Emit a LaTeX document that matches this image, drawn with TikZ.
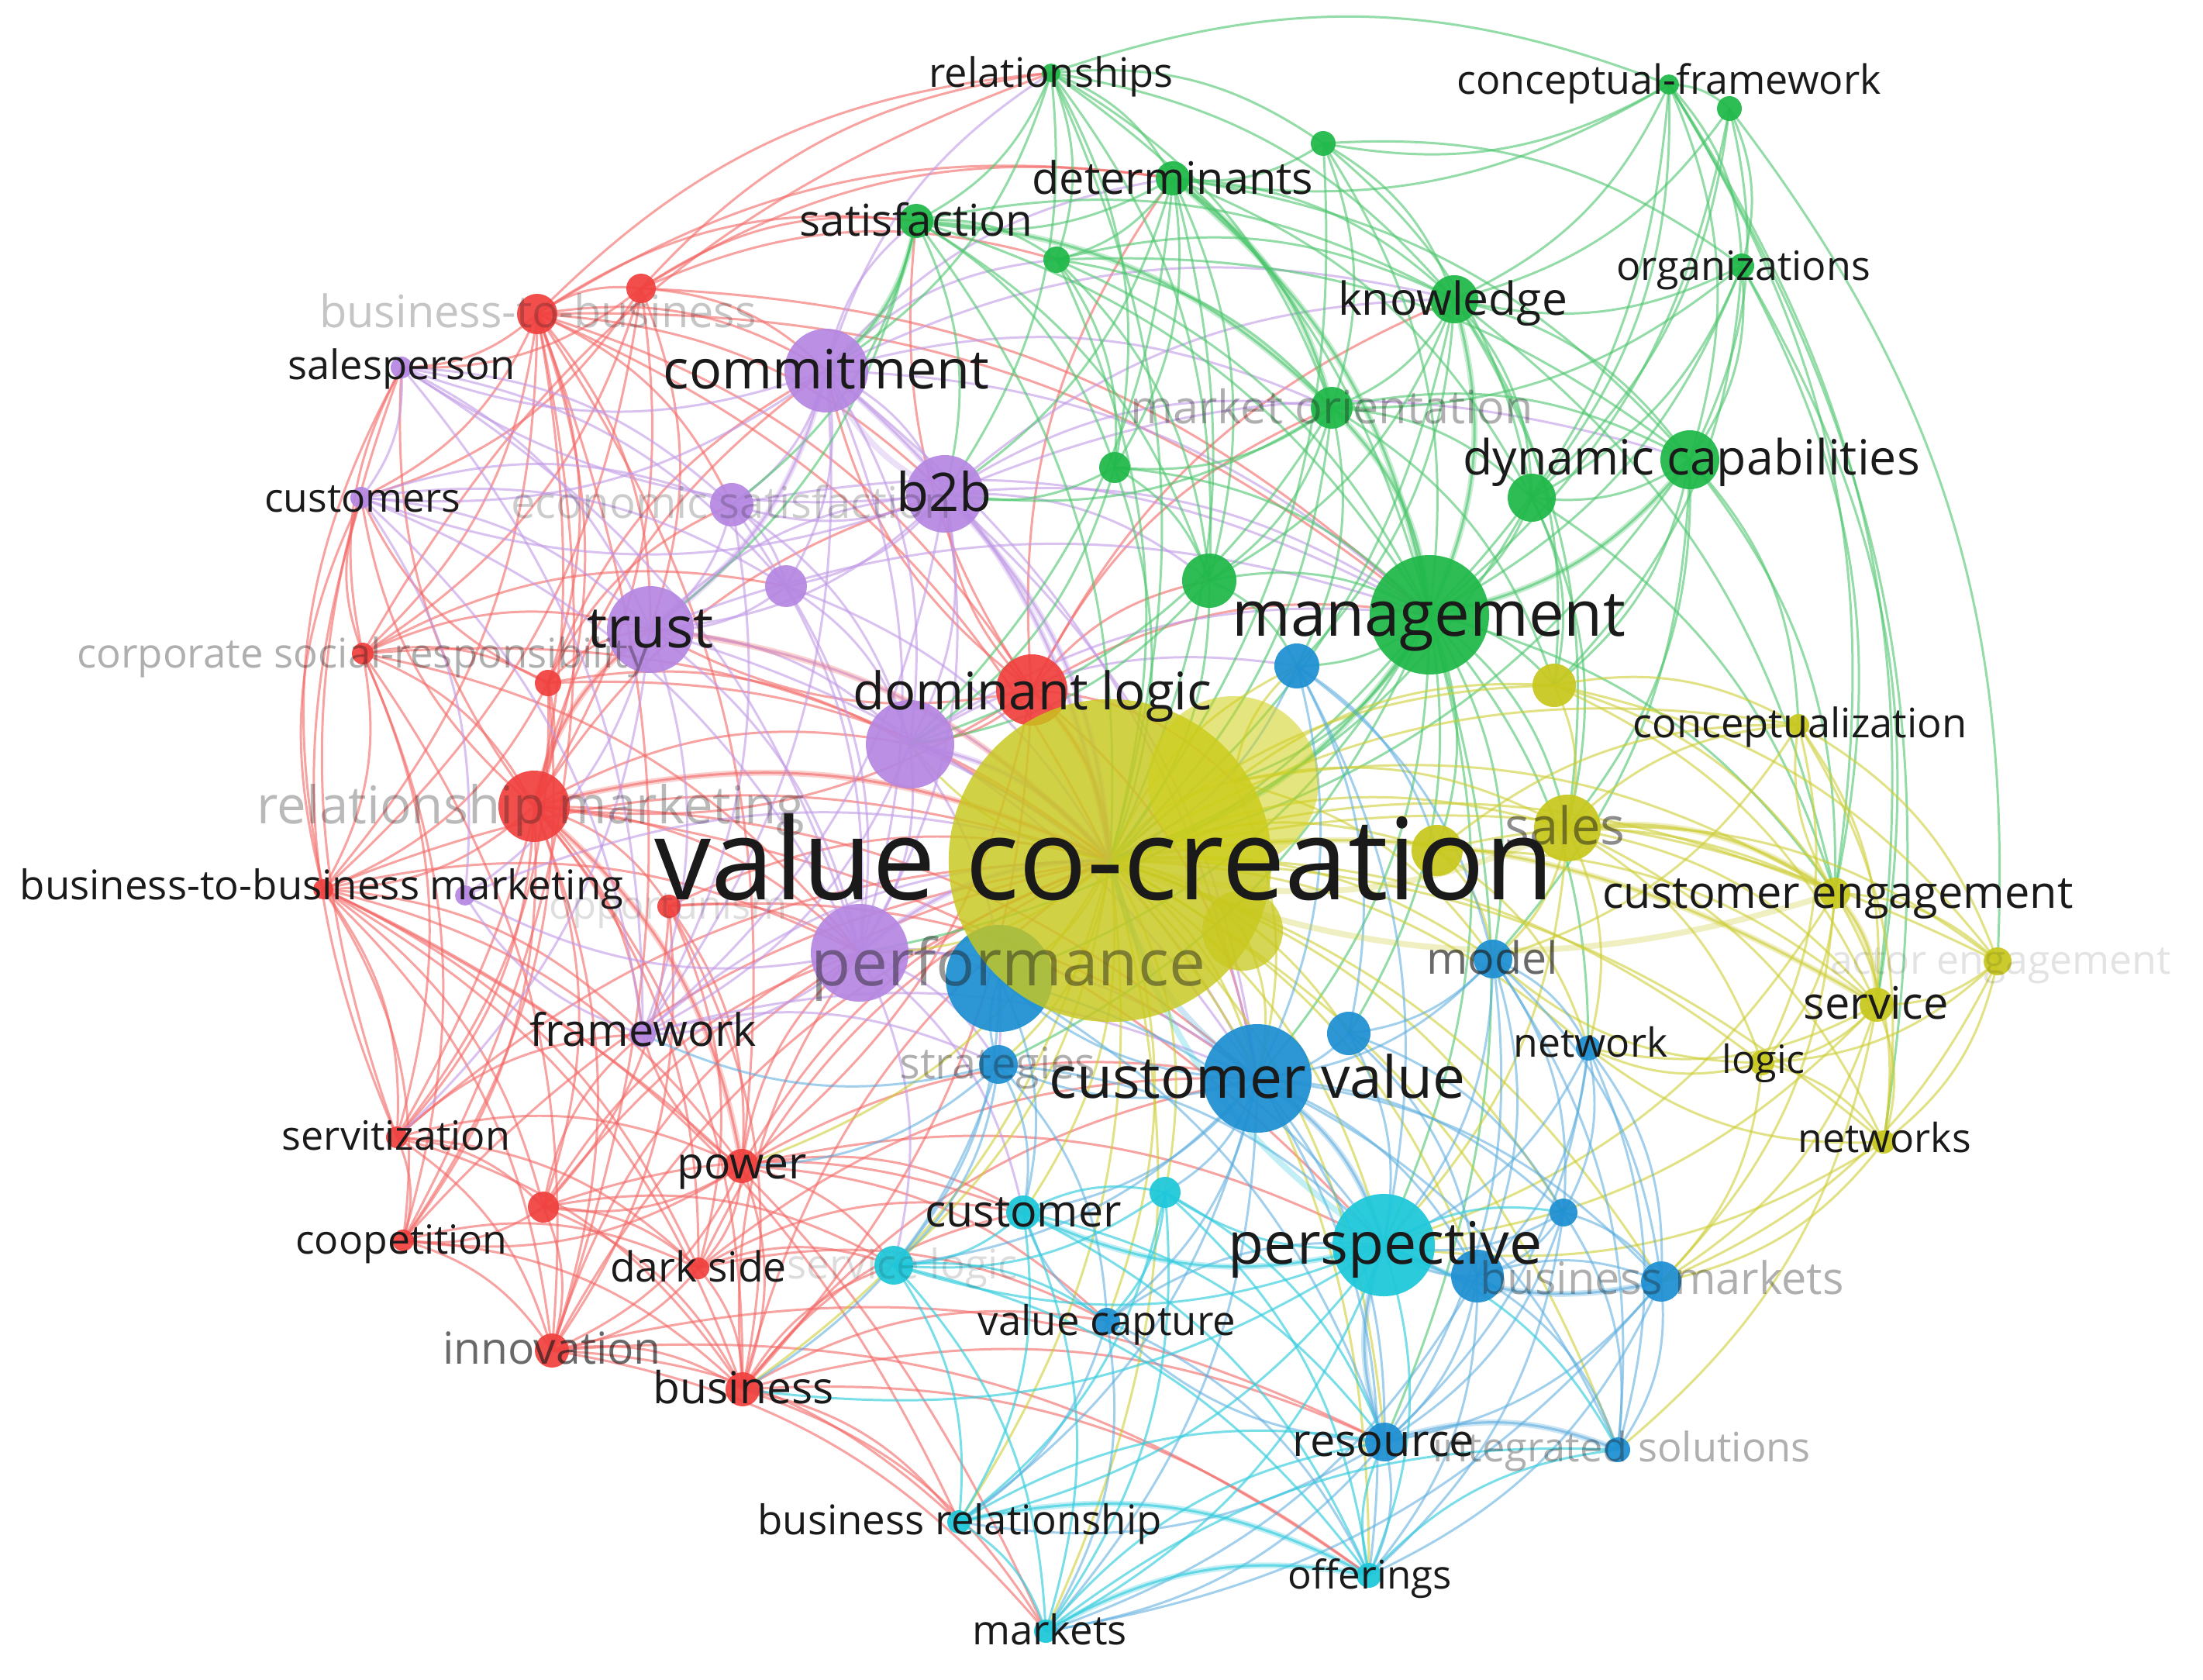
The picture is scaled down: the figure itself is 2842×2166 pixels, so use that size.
\documentclass[tikz,border=0pt]{standalone}
\usepackage{fontspec}
\setmainfont{Open Sans}
\pgfdeclarelayer{edges}
\pgfdeclarelayer{bg}
\pgfsetlayers{bg,edges,main}
\definecolor{gC}{HTML}{1FB848}
\definecolor{pC}{HTML}{B587E2}
\definecolor{rC}{HTML}{F0413F}
\definecolor{yC}{HTML}{C8C81E}
\definecolor{bC}{HTML}{1E8FD2}
\definecolor{cC}{HTML}{1DC8DA}
\definecolor{txt}{HTML}{1A1A1A}
\tikzset{
  kwdot/.style={circle,inner sep=0pt,draw=none,fill opacity=0.93},
  kwlbl/.style={anchor=base,inner sep=0pt,text=txt},
  ered/.style={draw=rC!80!white,draw opacity=0.6,line width=0.85pt},
  epur/.style={draw=pC!85!white,draw opacity=0.6,line width=0.85pt},
  egre/.style={draw=gC!80!white,draw opacity=0.6,line width=0.85pt},
  eyel/.style={draw=yC!90!white,draw opacity=0.6,line width=0.85pt},
  eblu/.style={draw=bC!75!white,draw opacity=0.55,line width=0.85pt},
  ecya/.style={draw=cC!90!white,draw opacity=0.65,line width=0.85pt},
  ethick/.style={line width=2.2pt,draw opacity=0.3},
}
\newcommand\kwnode[5]{\node[kwdot,fill=#5,minimum size={2*#4*0.01cm}] (#1) at (#2,#3) {};}
\newcommand\kwlabel[6]{\node[kwlbl,font=\fontsize{#4}{#4}\selectfont,text opacity=#5] (l#1) at ({#2},{#3+1.23*#4}) {#6};}
\begin{document}
\begin{tikzpicture}[x=0.01cm,y=-0.01cm]
\begin{pgfonlayer}{bg}
\fill[white] (0,0) rectangle (2842,2166);
\end{pgfonlayer}
\useasboundingbox (0,0) rectangle (2842,2166);
% ---- nodes ----
% red
\kwnode{b2bl}{693}{405}{26}{rC}
\kwnode{r1}{827}{372}{19}{rC}
\kwnode{csr}{468}{843}{14}{rC}
\kwnode{r2}{707}{881}{17}{rC}
\kwnode{rm}{689}{1040}{46}{rC}
\kwnode{bbm}{417}{1147}{13}{rC}
\kwnode{opp}{863}{1169}{15}{rC}
\kwnode{rdl}{1331}{890}{46}{rC}
\kwnode{ser}{512}{1467}{14}{rC}
\kwnode{pow}{957}{1504}{22}{rC}
\kwnode{r3}{701}{1557}{20}{rC}
\kwnode{coo}{520}{1600}{14}{rC}
\kwnode{dar}{901}{1636}{14}{rC}
\kwnode{inn}{712}{1742}{22}{rC}
\kwnode{bus}{958}{1792}{22}{rC}
% purple
\kwnode{com}{1066}{478}{54}{pC}
\kwnode{b2b}{1219}{637}{50}{pC}
\kwnode{slp}{518}{474}{14}{pC}
\kwnode{cus}{466}{642}{14}{pC}
\kwnode{eco}{944}{651}{28}{pC}
\kwnode{p1}{1014}{756}{27}{pC}
\kwnode{tru}{839}{812}{56}{pC}
\kwnode{pdl}{1174}{960}{57}{pC}
\kwnode{perf}{1109}{1229}{63}{pC}
\kwnode{frw}{829}{1334}{17}{pC}
\kwnode{p2}{600}{1155}{13}{pC}
% green
\kwnode{rel}{1356}{94}{12}{gC}
\kwnode{cfw}{2153}{109}{13}{gC}
\kwnode{cfwb}{2231}{140}{16}{gC}
\kwnode{g1}{1707}{185}{16}{gC}
\kwnode{det}{1513}{230}{22}{gC}
\kwnode{sat}{1182}{285}{22}{gC}
\kwnode{g2}{1363}{335}{17}{gC}
\kwnode{org}{2247}{343}{16}{gC}
\kwnode{kno}{1876}{386}{31}{gC}
\kwnode{mko}{1718}{526}{27}{gC}
\kwnode{g3}{1438}{603}{20}{gC}
\kwnode{dyn}{2180}{593}{38}{gC}
\kwnode{g4}{1976}{642}{31}{gC}
\kwnode{g5}{1560}{749}{35}{gC}
\kwnode{man}{1844}{793}{77}{gC}
% blue
\kwnode{b1}{1673}{859}{29}{bC}
\kwnode{mod}{1926}{1237}{25}{bC}
\kwnode{netw}{2049}{1352}{16}{bC}
\kwnode{b2}{1740}{1333}{28}{bC}
\kwnode{cv}{1622}{1391}{70}{bC}
\kwnode{str}{1288}{1373}{25}{bC}
\kwnode{b3}{2017}{1564}{18}{bC}
\kwnode{b4}{1906}{1646}{34}{bC}
\kwnode{bm}{2143}{1653}{26}{bC}
\kwnode{vcap}{1428}{1704}{17}{bC}
\kwnode{res}{1786}{1860}{25}{bC}
\kwnode{int}{2087}{1870}{16}{bC}
\kwnode{bbig}{1289}{1262}{69}{bC}
% cyan
\kwnode{pers}{1785}{1606}{66}{cC}
\kwnode{ccus}{1320}{1564}{22}{cC}
\kwnode{c1}{1503}{1538}{20}{cC}
\kwnode{slog}{1153}{1632}{25}{cC}
\kwnode{brel}{1237}{1963}{15}{cC}
\kwnode{off}{1766}{2032}{16}{cC}
\kwnode{mkt}{1349}{2104}{15}{cC}
% yellow
\node[kwdot,fill=yC,fill opacity=0.82,minimum size=4.16cm] (vcc) at (1432,1110) {};
\node[kwdot,fill=yC!85!yellow,fill opacity=0.55,minimum size=2.2cm] (y1) at (1591,1008) {};
\node[kwdot,fill=yC,fill opacity=0.75,minimum size=1.04cm] (y2) at (1603,1200) {};
\kwnode{y3}{2005}{884}{28}{yC}
\kwnode{y4}{1854}{1097}{33}{yC}
\kwnode{sls}{2022}{1068}{43}{yC}
\kwnode{ceng}{2367}{1152}{20}{yC}
\kwnode{conc}{2320}{935}{14}{yC}
\kwnode{act}{2577}{1240}{18}{yC}
\kwnode{serv}{2421}{1296}{22}{yC}
\kwnode{log}{2273}{1371}{16}{yC}
\kwnode{nets}{2430}{1473}{15}{yC}
% ---- edges ----
\begin{pgfonlayer}{edges}
\foreach \a/\b in {b2bl/r1, b2bl/slp, b2bl/cus, b2bl/csr, b2bl/r2, b2bl/rm, b2bl/bbm, b2bl/tru, b2bl/com, b2bl/b2b, b2bl/rel, b2bl/sat, b2bl/det, b2bl/ser, b2bl/coo, b2bl/inn, b2bl/pow, b2bl/rdl, b2bl/vcc, b2bl/eco, b2bl/man,
r1/com, r1/rel, r1/det, r1/tru, r1/rm, r1/csr, r1/cus, r1/slp, r1/bbm, r1/g2, r1/sat, r1/man,
csr/slp, csr/cus, csr/rm, csr/bbm, csr/tru, csr/r2, csr/ser, csr/coo, csr/inn, csr/perf, csr/p1, csr/rel, csr/vcc,
r2/tru, r2/rm, r2/bbm, r2/cus, r2/eco, r2/com, r2/ser, r2/coo, r2/vcc, r2/pdl,
rm/bbm, rm/ser, rm/coo, rm/inn, rm/bus, rm/pow, rm/r3, rm/dar, rm/tru, rm/com, rm/b2b, rm/pdl, rm/vcc, rm/perf, rm/frw, rm/cus, rm/slp, rm/opp, rm/cv, rm/pers,
bbm/ser, bbm/coo, bbm/inn, bbm/r3, bbm/pow, bbm/bus, bbm/frw, bbm/dar, bbm/perf, bbm/vcc, bbm/slp, bbm/cus, bbm/mkt, bbm/brel,
opp/pow, opp/r3, opp/dar, opp/vcc, opp/perf, opp/inn, opp/bus, opp/cv,
rdl/vcc, rdl/man, rdl/g5, rdl/com, rdl/b2b, rdl/pdl, rdl/tru, rdl/rm, rdl/pow, rdl/bus, rdl/sat, rdl/det, rdl/mko, rdl/cv, rdl/y1, rdl/kno,
ser/coo, ser/inn, ser/r3, ser/pow, ser/bus, ser/dar, ser/frw, ser/slp, ser/cus, ser/vcc,
pow/r3, pow/dar, pow/bus, pow/inn, pow/vcc, pow/cv, pow/perf, pow/coo, pow/slog, pow/ccus, pow/frw, pow/pers, pow/vcap,
r3/coo, r3/inn, r3/dar, r3/bus, r3/frw, r3/perf, r3/vcc, r3/ccus, r3/slog,
coo/inn, coo/bus, coo/dar, coo/vcc,
dar/bus, dar/inn, dar/slog, dar/vcc, dar/ccus, dar/cv, dar/vcap,
inn/bus, inn/vcc, inn/mkt, inn/brel, inn/perf, inn/res, inn/off,
bus/vcc, bus/slog, bus/ccus, bus/vcap, bus/mkt, bus/brel, bus/perf, bus/cv, bus/off, bus/res}
  {\draw[ered] (\a.center) to[bend left=20] (\b.center);}
\foreach \a/\b in {com/b2b, com/tru, com/eco, com/p1, com/pdl, com/perf, com/slp, com/cus, com/sat, com/det, com/rel, com/vcc, com/man, com/g2, com/frw, com/cv, com/kno, com/mko,
b2b/tru, b2b/eco, b2b/p1, b2b/pdl, b2b/perf, b2b/vcc, b2b/man, b2b/cv, b2b/frw, b2b/cus, b2b/slp, b2b/dyn, b2b/kno, b2b/mko, b2b/g5,
slp/cus, slp/tru, slp/eco, slp/p1, slp/perf, slp/frw,
cus/tru, cus/eco, cus/p1, cus/perf, cus/frw, cus/p2,
eco/tru, eco/p1, eco/pdl, eco/perf, eco/frw, eco/man,
p1/tru, p1/pdl, p1/perf, p1/vcc,
tru/pdl, tru/perf, tru/frw, tru/vcc, tru/p2, tru/cv, tru/ser, tru/man, tru/b2b,
pdl/perf, pdl/vcc, pdl/frw, pdl/cv, pdl/str, pdl/man, pdl/b1,
perf/vcc, perf/frw, perf/cv, perf/str, perf/bbig, perf/p2, perf/ccus, perf/slog,
frw/p2, frw/str, frw/vcc, frw/cv, p2/vcc}
  {\draw[epur] (\a.center) to[bend left=20] (\b.center);}
\foreach \a/\b in {rel/det, rel/sat, rel/g1, rel/g2, rel/kno, rel/mko, rel/man, rel/cfw, rel/g3, rel/g5, rel/com, rel/b2b, rel/vcc,
cfw/cfwb, cfw/org, cfw/kno, cfw/dyn, cfw/g4, cfw/man, cfw/det, cfw/g1, cfw/nets, cfw/serv, cfw/ceng,
cfwb/org, cfwb/dyn, cfwb/kno, cfwb/g4, cfwb/man, cfwb/act,
g1/det, g1/kno, g1/mko, g1/man, g1/g4, g1/org, g1/vcc,
det/sat, det/g2, det/kno, det/mko, det/man, det/g3, det/g5, det/dyn, det/g4, det/b2b, det/vcc, det/pdl,
sat/g2, sat/mko, sat/g3, sat/g5, sat/man, sat/b2b, sat/tru, sat/eco, sat/kno, sat/vcc, sat/com,
g2/mko, g2/g3, g2/g5, g2/man, g2/kno, g2/dyn, g2/vcc,
org/kno, org/dyn, org/g4, org/man, org/mko, org/y3, org/ceng, org/serv,
kno/mko, kno/dyn, kno/g4, kno/man, kno/g5, kno/y3, kno/vcc, kno/sls, kno/ceng, kno/b1,
mko/g3, mko/g5, mko/man, mko/dyn, mko/g4, mko/vcc, mko/b1, mko/y3, mko/pdl, mko/b2b,
g3/g5, g3/man, g3/vcc, g3/pdl, g3/b2b,
dyn/g4, dyn/man, dyn/y3, dyn/vcc, dyn/sls, dyn/ceng, dyn/conc, dyn/mod,
g4/man, g4/vcc, g4/y3, g4/sls, g4/ceng,
g5/man, g5/vcc, g5/b1, g5/pdl,
man/vcc, man/y1, man/b1, man/y3, man/sls, man/cv, man/mod, man/ceng, man/b2, man/netw, man/pers, man/str, man/perf, man/bbig, man/y4, man/res}
  {\draw[egre] (\a.center) to[bend left=20] (\b.center);}
\foreach \a/\b in {vcc/y1, vcc/y2, vcc/y3, vcc/y4, vcc/sls, vcc/ceng, vcc/conc, vcc/serv, vcc/log, vcc/nets, vcc/act, vcc/cv, vcc/pers, vcc/mod, vcc/netw, vcc/b2, vcc/bbig, vcc/str, vcc/ccus, vcc/res, vcc/bm, vcc/off, vcc/mkt, vcc/brel, vcc/vcap, vcc/slog, vcc/b1, vcc/b3, vcc/b4, vcc/int, vcc/c1, vcc/pow, vcc/bus, vcc/perf, vcc/pdl,
y1/y3, y1/sls, y1/ceng, y1/mod, y1/b1, y1/cv, y2/cv,
y3/conc, y3/ceng, y3/sls, y3/serv, y3/act,
y4/ceng, y4/serv, y4/conc, y4/mod, y4/netw,
sls/ceng, sls/conc, sls/serv, sls/log, sls/nets, sls/act, sls/mod, sls/netw, sls/pers,
ceng/conc, ceng/act, ceng/serv, ceng/log, ceng/nets, ceng/bm, ceng/pers,
conc/act, conc/serv, conc/log, conc/nets, conc/mod,
act/serv, act/log, act/nets, act/bm,
serv/log, serv/nets, serv/netw, serv/bm, serv/int, serv/pers,
log/nets, log/mod, log/netw, log/bm,
nets/bm, nets/pers, nets/netw}
  {\draw[eyel] (\a.center) to[bend left=20] (\b.center);}
\foreach \a/\b in {b1/cv, b1/b2, b1/mod, b1/pers, b1/vcc, b1/y4,
mod/netw, mod/b2, mod/cv, mod/pers, mod/b3, mod/b4, mod/bm, mod/res, mod/int,
netw/b3, netw/b4, netw/bm, netw/pers, netw/res, netw/int,
b2/cv, b2/pers, b2/b3, b2/b4,
cv/pers, cv/b3, cv/b4, cv/bm, cv/res, cv/int, cv/str, cv/vcap, cv/bbig, cv/ccus, cv/c1, cv/slog, cv/off, cv/mkt, cv/brel,
str/bbig, str/vcap, str/pers, str/slog, str/ccus, str/bus, str/pow, str/frw,
b3/b4, b3/bm, b3/pers, b3/res, b3/int, b3/off,
b4/bm, b4/pers, b4/res, b4/int, b4/off, b4/mkt,
bm/res, bm/int, bm/pers, bm/off, bm/mkt,
res/int, res/off, res/pers, res/mkt, res/brel, res/vcap,
vcap/pers, vcap/off, vcap/mkt, vcap/ccus, vcap/brel,
bbig/pers, bbig/res, bbig/ccus, bbig/slog}
  {\draw[eblu] (\a.center) to[bend left=20] (\b.center);}
\foreach \a/\b in {pers/ccus, pers/c1, pers/slog, pers/brel, pers/mkt, pers/off, pers/bus, pers/int, pers/b3,
ccus/c1, ccus/slog, ccus/brel, ccus/mkt, ccus/off, ccus/res,
c1/slog, c1/brel, c1/mkt, c1/off, c1/res, c1/vcap,
slog/brel, slog/mkt, slog/off, slog/vcap,
brel/mkt, brel/off, brel/res,
mkt/off, mkt/res, mkt/int,
off/res, off/int}
  {\draw[ecya] (\a.center) to[bend left=20] (\b.center);}
% stronger links
\foreach \a/\b in {rm/vcc, rm/pow, tru/vcc, rdl/vcc, rm/tru}
  {\draw[ered,ethick] (\a.center) to[bend left=20] (\b.center);}
\foreach \a/\b in {com/vcc, b2b/vcc, pdl/vcc, perf/vcc, com/tru, b2b/com}
  {\draw[epur,ethick] (\a.center) to[bend left=20] (\b.center);}
\foreach \a/\b in {man/vcc, kno/man, mko/man, det/man, sat/com, dyn/man, det/mko, sat/mko}
  {\draw[egre,ethick] (\a.center) to[bend left=20] (\b.center);}
\foreach \a/\b in {sls/vcc, ceng/vcc, vcc/serv, ceng/serv, sls/ceng}
  {\draw[eyel,ethick] (\a.center) to[bend left=20] (\b.center);}
\foreach \a/\b in {cv/vcc, cv/pers, bm/pers, res/pers, res/int}
  {\draw[eblu,ethick] (\a.center) to[bend left=20] (\b.center);}
\foreach \a/\b in {pers/vcc, pers/ccus, brel/off, mkt/off}
  {\draw[ecya,ethick] (\a.center) to[bend left=20] (\b.center);}
\end{pgfonlayer}
% ---- labels ----
\kwlabel{rel}{1356}{94}{14.9}{1}{relationships}
\kwlabel{cfw}{2153}{103}{14.8}{1}{conceptual-framework}
\kwlabel{det}{1513}{230}{16.4}{1}{determinants}
\kwlabel{sat}{1182}{285}{16.1}{1}{satisfaction}
\kwlabel{org}{2249}{343}{14.8}{1}{organizations}
\kwlabel{kno}{1874}{386}{16.7}{1}{knowledge}
\kwlabel{mko}{1718}{526}{16.9}{0.35}{market orientation}
\kwlabel{dyn}{2182}{591}{17.8}{1}{dynamic capabilities}
\kwlabel{man}{1843}{792}{23.2}{1}{management}
\kwlabel{com}{1066}{477}{19.9}{1}{commitment}
\kwlabel{b2b}{1218}{636}{19.5}{1}{b2b}
\kwlabel{slp}{518}{471}{14.9}{1}{salesperson}
\kwlabel{cus}{468}{642}{14.7}{1}{customers}
\kwlabel{eco}{943}{649}{16}{0.22}{economic satisfaction}
\kwlabel{tru}{839}{810}{21}{1}{trust}
\kwlabel{rdl}{1332}{892}{19}{1}{dominant logic}
\kwlabel{perf}{1301}{1242}{23.8}{0.45}{performance}
\kwlabel{frw}{830}{1329}{16.4}{1}{framework}
\kwlabel{b2bl}{694}{402}{16.4}{0.25}{business-to-business}
\kwlabel{csr}{468}{843}{15}{0.35}{corporate social-responsibility}
\kwlabel{rm}{685}{1039}{19.1}{0.3}{relationship marketing}
\kwlabel{bbm}{415}{1142}{15}{1}{business-to-business marketing}
\kwlabel{opp}{862}{1168}{14.4}{0.14}{opportunism}
\kwlabel{ser}{511}{1465}{14.8}{1}{servitization}
\kwlabel{pow}{957}{1501}{16.2}{1}{power}
\kwlabel{coo}{518}{1599}{14.7}{1}{coopetition}
\kwlabel{dar}{901}{1635}{15.2}{1}{dark side}
\kwlabel{inn}{712}{1740}{16.2}{0.65}{innovation}
\kwlabel{bus}{959}{1791}{16.2}{1}{business}
\kwlabel{vcc}{1425}{1109}{41.5}{1}{value co-creation}
\kwlabel{sls}{2019}{1066}{19}{0.5}{sales}
\kwlabel{ceng}{2371}{1151}{16.4}{1}{customer engagement}
\kwlabel{conc}{2322}{933}{14.9}{1}{conceptualization}
\kwlabel{act}{2581}{1238}{14.7}{0.12}{actor engagement}
\kwlabel{serv}{2420}{1294}{16.4}{1}{service}
\kwlabel{log}{2275}{1367}{14.3}{1}{logic}
\kwlabel{nets}{2431}{1468}{14.7}{1}{networks}
\kwlabel{mod}{1925}{1236}{16.3}{0.65}{model}
\kwlabel{netw}{2052}{1345}{14.7}{1}{network}
\kwlabel{cv}{1622}{1390}{21.3}{1}{customer value}
\kwlabel{str}{1287}{1372}{15.9}{0.35}{strategies}
\kwlabel{bm}{2144}{1649}{16.4}{0.35}{business markets}
\kwlabel{vcap}{1428}{1704}{15}{1}{value capture}
\kwlabel{res}{1785}{1858}{16.4}{1}{resource}
\kwlabel{int}{2092}{1867}{14.9}{0.35}{integrated solutions}
\kwlabel{pers}{1787}{1604}{21.4}{1}{perspective}
\kwlabel{ccus}{1320}{1562}{16.3}{1}{customer}
\kwlabel{slog}{1164}{1631}{15}{0.15}{service logic}
\kwlabel{brel}{1238}{1961}{15}{1}{business relationship}
\kwlabel{off}{1767}{2032}{14.5}{1}{offerings}
\kwlabel{mkt}{1354}{2103}{15}{1}{markets}
\end{tikzpicture}
\end{document}
